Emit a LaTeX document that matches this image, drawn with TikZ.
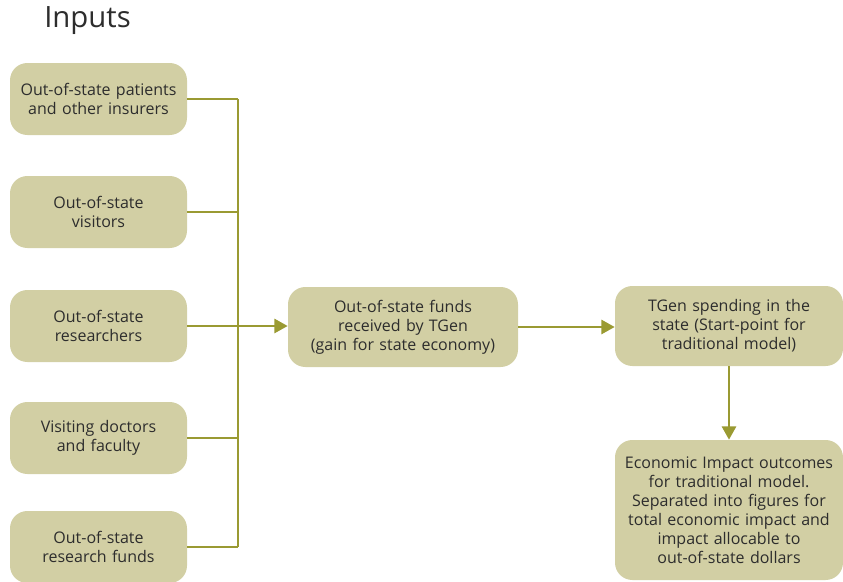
\documentclass[tikz,border=0pt]{standalone}
\usepackage{fontspec}
\setmainfont{Open Sans}
\usepackage{tikz}
\usetikzlibrary{arrows.meta}
\definecolor{boxfill}{HTML}{D2CFA4}
\definecolor{olive}{HTML}{9A9A32}
\definecolor{inktext}{HTML}{2D2D2D}

\begin{document}
\begin{tikzpicture}[x=0.75pt,y=-0.75pt,
  box/.style={draw=none,fill=boxfill,rounded corners=13pt,text=inktext,
    align=center,font=\fontsize{12}{14.3}\selectfont,inner sep=1pt},
  inbox/.style={box,minimum width=132.75pt,minimum height=54pt,text width=130pt},
  wire/.style={draw=olive,line width=2pt},
  arr/.style={wire,-{Triangle[length=10pt,width=10.5pt]}}]
\useasboundingbox (0,0) rectangle (843,582);
% heading
\node[text=inktext,font=\fontsize{22}{26}\selectfont,anchor=west,inner sep=0pt] (title) at (44,21) {Inputs};
% inputs on the left
\node[inbox] (in1) at (98.5,99) {Out-of-state patients\\and other insurers};
\node[inbox] (in2) at (98.5,212) {Out-of-state\\visitors};
\node[inbox] (in3) at (98.5,326) {Out-of-state\\researchers};
\node[inbox] (in4) at (98.5,438) {Visiting doctors\\and faculty};
\node[inbox] (in5) at (98.5,547) {Out-of-state\\research funds};
% middle and right
\node[box,minimum width=172.5pt,minimum height=60pt,text width=170pt] (funds) at (403,327)
  {Out-of-state funds\\received by TGen\\(gain for state economy)};
\node[box,minimum width=171pt,minimum height=60pt,text width=169pt] (spend) at (729,326)
  {TGen spending in the\\state (Start-point for\\traditional model)};
\node[box,minimum width=171pt,minimum height=105pt,text width=169pt] (impact) at (729,510)
  {Economic Impact outcomes\\for traditional model.\\Separated into figures for\\total economic impact and\\impact allocable to\\out-of-state dollars};
% collecting line
\coordinate (bus) at (238,0);
\foreach \i in {1,2,4,5}
  \draw[wire] (in\i.east) -- (in\i.east -| bus);
\draw[wire] (in1.east -| bus) -- (in5.east -| bus);
\draw[arr] (in3.east) -- (in3.east -| funds.west);
\draw[arr] (funds.east) -- (funds.east -| spend.west);
\draw[arr] (spend.south) -- (impact.north);
\end{tikzpicture}
\end{document}
